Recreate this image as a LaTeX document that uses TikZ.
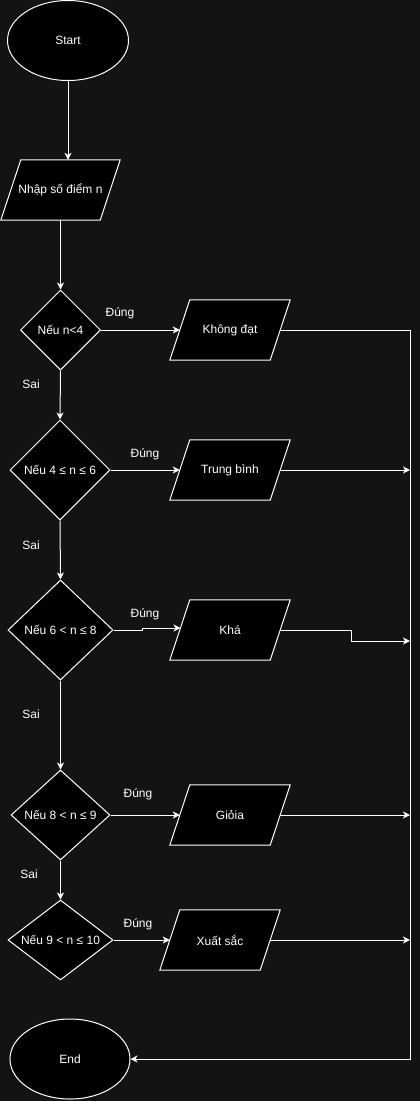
\documentclass[tikz,border=0pt]{standalone}
\usepackage{fontspec}
\setmainfont{Liberation Sans}
\usetikzlibrary{shapes.geometric,arrows.meta}
\definecolor{bgc}{HTML}{131313}
\pgfdeclarelayer{bg}
\pgfsetlayers{bg,main}
\tikzset{
  every node/.style={font=\fontsize{12}{14}\selectfont, text=white},
  base/.style={draw=white, fill=black, line width=1pt, inner sep=0pt},
  term/.style={base, ellipse, minimum width=120pt, minimum height=80pt},
  para/.style={rectangle, inner sep=0pt, minimum width=100pt, minimum height=60pt},
  parashape/.style={draw=white, fill=black, line width=1pt, line join=miter},
  dec/.style={base, diamond},
  conn/.style={draw=white, line width=1pt},
  arr/.style={conn, -{Stealth[length=7pt,width=7pt,inset=2pt]}},
  lbl/.style={inner sep=0pt}
}
\begin{document}
\begin{tikzpicture}[x=1pt,y=-1pt]
\useasboundingbox (0,0) rectangle (420,1101);
\begin{pgfonlayer}{bg}
\fill[bgc] (0,0) rectangle (420,1101);
\end{pgfonlayer}

\node[term, minimum width=121pt] (start) at (68,40.5) {Start};
\node[para, minimum width=99pt] (in) at (60.5,190) {Nhập số điểm n};

\node[dec, minimum width=80pt, minimum height=80pt, shape aspect=1] (d1) at (60.5,330) {Nếu n<4};
\node[dec, minimum width=100pt, minimum height=100pt, shape aspect=1] (d2) at (60,470) {Nếu 4 ≤ n ≤ 6};
\node[dec, minimum width=105pt, minimum height=100pt, shape aspect=1.05] (d3) at (60.5,630) {Nếu 6 < n ≤ 8};
\node[dec, minimum width=99pt, minimum height=90pt, shape aspect=1.1] (d4) at (60.5,815) {Nếu 8 < n ≤ 9};
\node[dec, minimum width=105pt, minimum height=80pt, shape aspect=1.31] (d5) at (60.5,940) {Nếu 9 < n ≤ 10};

\node[para] (p1) at (230,330) {Không đạt};
\node[para] (p2) at (230,470) {Trung bình};
\node[para] (p3) at (230,630) {Khá};
\node[para] (p4) at (230,815) {Giỏia};
\node[para] (p5) at (220,940) {Xuất sắc};

\node[term] (end) at (70,1059) {End};

\begin{pgfonlayer}{bg}
\foreach \n in {in,p1,p2,p3,p4,p5}
  \draw[parashape] ([xshift=10pt]\n.north west) -- ([xshift=10pt]\n.north east)
    -- ([xshift=-10pt]\n.south east) -- ([xshift=-10pt]\n.south west) -- cycle;
\end{pgfonlayer}

\coordinate (bus) at (410,330);
\coordinate (j2) at (410,470);
\coordinate (k1) at (142,628);
\coordinate (k2) at (351,641);
\coordinate (j3) at (410,641);
\coordinate (j4) at (410,815);
\coordinate (j5) at (410,940);

% main flow
\draw[arr] (start.south) -- (start.south |- in.north);
\draw[arr] (in.south) -- (d1.north);
\draw[arr] (d1.south) -- (d2.north);
\draw[arr] (d2.south) -- (d3.north);
\draw[arr] (d3.south) -- (d4.north);
\draw[arr] (d4.south) -- (d5.north);

% true branches
\draw[arr] (d1.east) -- (p1.west);
\draw[arr] (d2.east) -- (p2.west);
\draw[arr] (d3.east) -| (k1) -- ([xshift=0.7pt]k1 -| p3.west);
\draw[arr] (d4.east) -- (p4.west);
\draw[arr] (d5.east) -- (p5.west);

% to end
\draw[arr] (p1.east) -- (bus) |- (end.east);
\draw[arr] (p2.east) -- (j2);
\draw[arr] (p3.east) -| (k2) -- (j3);
\draw[arr] (p4.east) -- (j4);
\draw[arr] (p5.east) -- (j5);

% labels
\node[lbl] at (120,313) {Đúng};
\node[lbl] at (145,454) {Đúng};
\node[lbl] at (145,614) {Đúng};
\node[lbl] at (138,794) {Đúng};
\node[lbl] at (138,924) {Đúng};
\node[lbl] at (31,384) {Sai};
\node[lbl] at (31,545) {Sai};
\node[lbl] at (31,714) {Sai};
\node[lbl] at (29,874) {Sai};
\end{tikzpicture}
\end{document}
